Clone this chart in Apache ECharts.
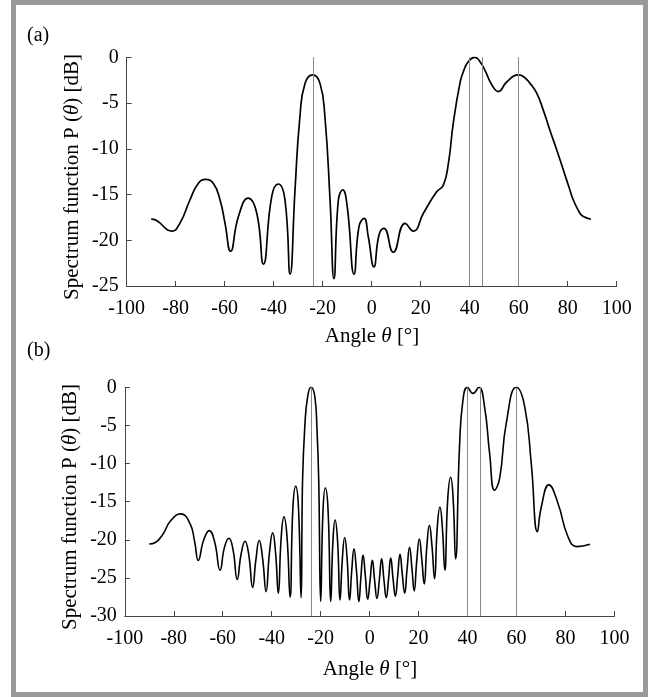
<!DOCTYPE html>
<html>
<head>
<meta charset="utf-8">
<script src="https://cdn.jsdelivr.net/npm/echarts@6/dist/echarts.min.js"></script>
<style>
html,body{margin:0;padding:0;background:#fff;}
#chart{width:654px;height:697px;}
</style>
</head>
<body>
<div id="chart"></div>
<script>
// Panel (a): conventional spectrum
const angleA = [-90, -87.8, -81.6, -78.2, -74.2, -70.8, -67.8, -64.6, -61.9, -59.9, -57.6, -54.4, -50.4, -46.9, -44.2, -40.8, -38.1, -35.4, -33.3, -31.3, -29.3, -27.2, -24.1, -21.1, -19.1, -17.0, -15.4, -13.6, -11.8, -10.0, -7.2, -5.2, -3.1, -1.4, 0.9, 3.0, 5.0, 8.8, 13.6, 17.0, 21.1, 26.5, 29.2, 31.3, 33.3, 36.0, 37.4, 39.4, 42.2, 44.2, 46.2, 49.0, 51.7, 55.1, 59.8, 61.9, 64.6, 67.3, 70.0, 72.7, 75.5, 78.2, 80.9, 82.3, 85.0, 86.4, 89.5];
const powerA = [-17.7, -17.85, -19.0, -18.1, -15.6, -13.8, -13.35, -13.8, -15.6, -18.1, -21.2, -17.4, -15.4, -17.05, -22.6, -15.2, -13.85, -15.6, -23.7, -14.5, -6.5, -2.85, -1.93, -2.85, -6.5, -15.6, -24.2, -15.6, -14.5, -16.3, -23.7, -18.5, -17.6, -19.6, -22.9, -19.4, -18.7, -21.3, -18.15, -19.0, -17.05, -14.7, -14.0, -11.6, -7.2, -2.85, -1.57, -0.48, 0, -0.48, -1.4, -3.0, -3.75, -2.7, -1.93, -2.1, -2.85, -3.9, -5.75, -7.95, -10.1, -12.3, -14.5, -15.6, -17.05, -17.4, -17.7];

// Panel (b): high-resolution spectrum
const angleB = [-90, -87.7, -84.3, -81.5, -77.2, -73.4, -71.5, -70.0, -67.75, -65.5, -63.3, -61.1, -59.3, -57.5, -55.8, -54.1, -52.5, -50.9, -49.35, -47.8, -46.45, -45.1, -43.7, -42.3, -40.95, -39.6, -38.45, -37.3, -36.15, -35.0, -33.75, -32.5, -31.35, -30.2, -29.1, -28.0, -27.4, -26.4, -25.3, -24.0, -22.4, -21.5, -20.8, -20.0, -19.05, -18.1, -17.0, -15.9, -15.0, -14.1, -13.1, -12.1, -11.15, -10.2, -9.2, -8.2, -7.3, -6.4, -5.4, -4.4, -3.55, -2.7, -1.75, -0.8, 0.15, 1.1, 2.05, 3.0, 3.95, 4.9, 5.85, 6.8, 7.7, 8.6, 9.55, 10.5, 11.45, 12.4, 13.35, 14.3, 15.3, 16.3, 17.25, 18.2, 19.25, 20.3, 21.3, 22.3, 23.35, 24.4, 25.45, 26.5, 27.6, 28.7, 29.7, 30.7, 31.9, 33.1, 34.1, 35.1, 36.7, 38.1, 39.9, 42.2, 44.6, 46.9, 49.0, 51.0, 53.1, 55.8, 59.9, 63.3, 66.0, 68.5, 70.1, 73.2, 76.9, 81.0, 84.7, 90.0];
const powerB = [-20.56, -20.4, -19.2, -17.6, -16.6, -17.85, -20.2, -22.7, -20.0, -18.8, -20.3, -24.0, -21.0, -19.8, -21.3, -25.2, -21.9, -20.2, -22.0, -26.25, -22.6, -20.1, -22.5, -26.8, -21.8, -19.1, -21.6, -27.0, -19.8, -17.0, -19.6, -27.5, -15.8, -13.0, -15.6, -27.6, -12.2, -4.7, -1.2, 0, -1.2, -5.6, -12.2, -28.1, -16.2, -13.2, -16.0, -28.1, -20.2, -17.4, -20.2, -27.9, -22.5, -19.7, -22.5, -27.9, -24.0, -21.2, -24.0, -28.1, -24.8, -22.0, -24.8, -27.8, -25.4, -22.7, -25.4, -27.7, -25.3, -22.5, -25.3, -27.6, -25.2, -22.4, -25.1, -27.4, -24.7, -21.9, -24.6, -27.0, -23.8, -21.0, -23.7, -26.7, -22.7, -19.9, -22.6, -25.8, -20.9, -18.1, -20.8, -25.1, -18.5, -15.7, -18.4, -24.0, -14.6, -11.8, -14.6, -22.5, -7.8, -1.7, 0, -0.8, 0, -2.5, -8.7, -13.5, -11.9, -4.7, 0, -2.5, -10.0, -18.95, -15.7, -12.8, -15.2, -19.6, -20.9, -20.6];

// True source directions (vertical reference lines)
const sourceAngles = [-24, 40, 45, 60];

const axisRange = {xMin: -100, xMax: 100, xStep: 20, yMaxA: 0, yMinA: -25, yMaxB: 0, yMinB: -30, yStep: 5};
const panelLabels = ['(a)', '(b)'];
const xTitle = 'Angle {i|θ} [°]';
const yTitle = 'Spectrum function P ({i|θ}) [dB]';

const FONT = '"Liberation Serif", "Times New Roman", serif';
const zip = (xs, ys) => xs.map((x, i) => [x, ys[i]]);

function xAxisCfg(gi) {
  return {
    gridIndex: gi, type: 'value', min: axisRange.xMin, max: axisRange.xMax, interval: axisRange.xStep,
    axisLine: {show: true, onZero: false, lineStyle: {color: '#444', width: 1}},
    axisTick: {show: true, inside: true, length: 5, lineStyle: {color: '#444'}},
    axisLabel: {fontFamily: FONT, fontSize: 20, color: '#000', margin: 13},
    splitLine: {show: false}
  };
}
function yAxisCfg(gi, min, max) {
  return {
    gridIndex: gi, type: 'value', min: min, max: max, interval: axisRange.yStep,
    axisLine: {show: true, onZero: false, lineStyle: {color: '#444', width: 1}},
    axisTick: {show: true, inside: true, length: 5, lineStyle: {color: '#444'}},
    axisLabel: {fontFamily: FONT, fontSize: 20, color: '#000', margin: 8},
    splitLine: {show: false}
  };
}
function markLines() {
  return {
    silent: true, symbol: ['none', 'none'], label: {show: false},
    lineStyle: {color: '#888', width: 1, type: 'solid'},
    data: sourceAngles.map(a => ({xAxis: a}))
  };
}
function txt(x, y, text, rot) {
  return {
    type: 'text', x: x, y: y, rotation: rot || 0, silent: true,
    style: {
      text: text, fontFamily: FONT, fontSize: 21, fill: '#000',
      align: 'center', verticalAlign: 'middle',
      rich: {i: {fontFamily: FONT, fontSize: 21, fontStyle: 'italic', fill: '#000'}}
    }
  };
}

const chart = echarts.init(document.getElementById('chart'), null, {renderer: 'canvas'});
chart.setOption({
  animation: false,
  backgroundColor: '#fff',
  grid: [
    {left: 126.7, right: 37.3, top: 57.3, height: 228.7},
    {left: 124.8, right: 39.5, top: 387.3, height: 228.7}
  ],
  xAxis: [xAxisCfg(0), xAxisCfg(1)],
  yAxis: [yAxisCfg(0, axisRange.yMinA, axisRange.yMaxA), yAxisCfg(1, axisRange.yMinB, axisRange.yMaxB)],
  series: [
    {type: 'line', xAxisIndex: 0, yAxisIndex: 0, data: zip(angleA, powerA), showSymbol: false, smooth: true,
     lineStyle: {color: '#000', width: 1.7}, markLine: markLines()},
    {type: 'line', xAxisIndex: 1, yAxisIndex: 1, data: zip(angleB, powerB), showSymbol: false, smooth: true,
     lineStyle: {color: '#000', width: 1.6}, markLine: markLines()}
  ],
  graphic: [
    {type: 'rect', silent: true, shape: {x: 13.5, y: 2.5, width: 632, height: 692},
     style: {fill: 'none', stroke: '#999', lineWidth: 5}},
    {type: 'text', x: 27, y: 36, silent: true, style: {text: panelLabels[0], fontFamily: FONT, fontSize: 20, fill: '#000', verticalAlign: 'middle'}},
    {type: 'text', x: 27, y: 351, silent: true, style: {text: panelLabels[1], fontFamily: FONT, fontSize: 20, fill: '#000', verticalAlign: 'middle'}},
    txt(72, 177, yTitle, Math.PI / 2),
    txt(70, 507, yTitle, Math.PI / 2),
    txt(372, 336, xTitle),
    txt(370, 669, xTitle)
  ]
});
</script>
</body>
</html>
